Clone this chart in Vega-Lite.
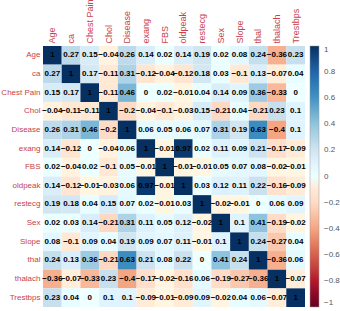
{
  "$schema": "https://vega.github.io/schema/vega-lite/v6.json",
  "width": 262,
  "height": 261,
  "autosize": {"type": "none"},
  "padding": {"left": 43, "top": 46, "right": 35, "bottom": 4},
  "background": "white",
  "datasets": {
    "m": [
      {"r":"Age","c":"Age","v":1},{"r":"Age","c":"ca","v":0.27},{"r":"Age","c":"Chest Pain","v":0.15},{"r":"Age","c":"Chol","v":-0.04},{"r":"Age","c":"Disease","v":0.26},{"r":"Age","c":"exang","v":0.14},{"r":"Age","c":"FBS","v":0.02},{"r":"Age","c":"oldpeak","v":0.14},{"r":"Age","c":"restecg","v":0.19},{"r":"Age","c":"Sex","v":0.02},{"r":"Age","c":"Slope","v":0.08},{"r":"Age","c":"thal","v":0.24},{"r":"Age","c":"thalach","v":-0.36},{"r":"Age","c":"Trestbps","v":0.23},
      {"r":"ca","c":"Age","v":0.27},{"r":"ca","c":"ca","v":1},{"r":"ca","c":"Chest Pain","v":0.17},{"r":"ca","c":"Chol","v":-0.11},{"r":"ca","c":"Disease","v":0.31},{"r":"ca","c":"exang","v":-0.12},{"r":"ca","c":"FBS","v":-0.04},{"r":"ca","c":"oldpeak","v":-0.12},{"r":"ca","c":"restecg","v":0.18},{"r":"ca","c":"Sex","v":0.03},{"r":"ca","c":"Slope","v":-0.1},{"r":"ca","c":"thal","v":0.13},{"r":"ca","c":"thalach","v":-0.07},{"r":"ca","c":"Trestbps","v":0.04},
      {"r":"Chest Pain","c":"Age","v":0.15},{"r":"Chest Pain","c":"ca","v":0.17},{"r":"Chest Pain","c":"Chest Pain","v":1},{"r":"Chest Pain","c":"Chol","v":-0.11},{"r":"Chest Pain","c":"Disease","v":0.46},{"r":"Chest Pain","c":"exang","v":0},{"r":"Chest Pain","c":"FBS","v":0.02},{"r":"Chest Pain","c":"oldpeak","v":-0.01},{"r":"Chest Pain","c":"restecg","v":0.04},{"r":"Chest Pain","c":"Sex","v":0.14},{"r":"Chest Pain","c":"Slope","v":0.09},{"r":"Chest Pain","c":"thal","v":0.36},{"r":"Chest Pain","c":"thalach","v":-0.33},{"r":"Chest Pain","c":"Trestbps","v":0},
      {"r":"Chol","c":"Age","v":-0.04},{"r":"Chol","c":"ca","v":-0.11},{"r":"Chol","c":"Chest Pain","v":-0.11},{"r":"Chol","c":"Chol","v":1},{"r":"Chol","c":"Disease","v":-0.2},{"r":"Chol","c":"exang","v":-0.04},{"r":"Chol","c":"FBS","v":-0.1},{"r":"Chol","c":"oldpeak","v":-0.03},{"r":"Chol","c":"restecg","v":0.15},{"r":"Chol","c":"Sex","v":-0.21},{"r":"Chol","c":"Slope","v":0.04},{"r":"Chol","c":"thal","v":-0.21},{"r":"Chol","c":"thalach","v":0.23},{"r":"Chol","c":"Trestbps","v":0.1},
      {"r":"Disease","c":"Age","v":0.26},{"r":"Disease","c":"ca","v":0.31},{"r":"Disease","c":"Chest Pain","v":0.46},{"r":"Disease","c":"Chol","v":-0.2},{"r":"Disease","c":"Disease","v":1},{"r":"Disease","c":"exang","v":0.06},{"r":"Disease","c":"FBS","v":0.05},{"r":"Disease","c":"oldpeak","v":0.06},{"r":"Disease","c":"restecg","v":0.07},{"r":"Disease","c":"Sex","v":0.31},{"r":"Disease","c":"Slope","v":0.19},{"r":"Disease","c":"thal","v":0.63},{"r":"Disease","c":"thalach","v":-0.4},{"r":"Disease","c":"Trestbps","v":0.1},
      {"r":"exang","c":"Age","v":0.14},{"r":"exang","c":"ca","v":-0.12},{"r":"exang","c":"Chest Pain","v":0},{"r":"exang","c":"Chol","v":-0.04},{"r":"exang","c":"Disease","v":0.06},{"r":"exang","c":"exang","v":1},{"r":"exang","c":"FBS","v":-0.01},{"r":"exang","c":"oldpeak","v":0.97},{"r":"exang","c":"restecg","v":0.02},{"r":"exang","c":"Sex","v":0.11},{"r":"exang","c":"Slope","v":0.09},{"r":"exang","c":"thal","v":0.21},{"r":"exang","c":"thalach","v":-0.17},{"r":"exang","c":"Trestbps","v":-0.09},
      {"r":"FBS","c":"Age","v":0.02},{"r":"FBS","c":"ca","v":-0.04},{"r":"FBS","c":"Chest Pain","v":0.02},{"r":"FBS","c":"Chol","v":-0.1},{"r":"FBS","c":"Disease","v":0.05},{"r":"FBS","c":"exang","v":-0.01},{"r":"FBS","c":"FBS","v":1},{"r":"FBS","c":"oldpeak","v":-0.01},{"r":"FBS","c":"restecg","v":-0.01},{"r":"FBS","c":"Sex","v":0.05},{"r":"FBS","c":"Slope","v":0.07},{"r":"FBS","c":"thal","v":0.08},{"r":"FBS","c":"thalach","v":-0.02},{"r":"FBS","c":"Trestbps","v":-0.01},
      {"r":"oldpeak","c":"Age","v":0.14},{"r":"oldpeak","c":"ca","v":-0.12},{"r":"oldpeak","c":"Chest Pain","v":-0.01},{"r":"oldpeak","c":"Chol","v":-0.03},{"r":"oldpeak","c":"Disease","v":0.06},{"r":"oldpeak","c":"exang","v":0.97},{"r":"oldpeak","c":"FBS","v":-0.01},{"r":"oldpeak","c":"oldpeak","v":1},{"r":"oldpeak","c":"restecg","v":0.03},{"r":"oldpeak","c":"Sex","v":0.12},{"r":"oldpeak","c":"Slope","v":0.11},{"r":"oldpeak","c":"thal","v":0.22},{"r":"oldpeak","c":"thalach","v":-0.16},{"r":"oldpeak","c":"Trestbps","v":-0.09},
      {"r":"restecg","c":"Age","v":0.19},{"r":"restecg","c":"ca","v":0.18},{"r":"restecg","c":"Chest Pain","v":0.04},{"r":"restecg","c":"Chol","v":0.15},{"r":"restecg","c":"Disease","v":0.07},{"r":"restecg","c":"exang","v":0.02},{"r":"restecg","c":"FBS","v":-0.01},{"r":"restecg","c":"oldpeak","v":0.03},{"r":"restecg","c":"restecg","v":1},{"r":"restecg","c":"Sex","v":-0.02},{"r":"restecg","c":"Slope","v":-0.01},{"r":"restecg","c":"thal","v":0},{"r":"restecg","c":"thalach","v":0.06},{"r":"restecg","c":"Trestbps","v":0.09},
      {"r":"Sex","c":"Age","v":0.02},{"r":"Sex","c":"ca","v":0.03},{"r":"Sex","c":"Chest Pain","v":0.14},{"r":"Sex","c":"Chol","v":-0.21},{"r":"Sex","c":"Disease","v":0.31},{"r":"Sex","c":"exang","v":0.11},{"r":"Sex","c":"FBS","v":0.05},{"r":"Sex","c":"oldpeak","v":0.12},{"r":"Sex","c":"restecg","v":-0.02},{"r":"Sex","c":"Sex","v":1},{"r":"Sex","c":"Slope","v":0.1},{"r":"Sex","c":"thal","v":0.41},{"r":"Sex","c":"thalach","v":-0.19},{"r":"Sex","c":"Trestbps","v":-0.02},
      {"r":"Slope","c":"Age","v":0.08},{"r":"Slope","c":"ca","v":-0.1},{"r":"Slope","c":"Chest Pain","v":0.09},{"r":"Slope","c":"Chol","v":0.04},{"r":"Slope","c":"Disease","v":0.19},{"r":"Slope","c":"exang","v":0.09},{"r":"Slope","c":"FBS","v":0.07},{"r":"Slope","c":"oldpeak","v":0.11},{"r":"Slope","c":"restecg","v":-0.01},{"r":"Slope","c":"Sex","v":0.1},{"r":"Slope","c":"Slope","v":1},{"r":"Slope","c":"thal","v":0.24},{"r":"Slope","c":"thalach","v":-0.27},{"r":"Slope","c":"Trestbps","v":0.04},
      {"r":"thal","c":"Age","v":0.24},{"r":"thal","c":"ca","v":0.13},{"r":"thal","c":"Chest Pain","v":0.36},{"r":"thal","c":"Chol","v":-0.21},{"r":"thal","c":"Disease","v":0.63},{"r":"thal","c":"exang","v":0.21},{"r":"thal","c":"FBS","v":0.08},{"r":"thal","c":"oldpeak","v":0.22},{"r":"thal","c":"restecg","v":0},{"r":"thal","c":"Sex","v":0.41},{"r":"thal","c":"Slope","v":0.24},{"r":"thal","c":"thal","v":1},{"r":"thal","c":"thalach","v":-0.36},{"r":"thal","c":"Trestbps","v":0.06},
      {"r":"thalach","c":"Age","v":-0.36},{"r":"thalach","c":"ca","v":-0.07},{"r":"thalach","c":"Chest Pain","v":-0.33},{"r":"thalach","c":"Chol","v":0.23},{"r":"thalach","c":"Disease","v":-0.4},{"r":"thalach","c":"exang","v":-0.17},{"r":"thalach","c":"FBS","v":-0.02},{"r":"thalach","c":"oldpeak","v":-0.16},{"r":"thalach","c":"restecg","v":0.06},{"r":"thalach","c":"Sex","v":-0.19},{"r":"thalach","c":"Slope","v":-0.27},{"r":"thalach","c":"thal","v":-0.36},{"r":"thalach","c":"thalach","v":1},{"r":"thalach","c":"Trestbps","v":-0.07},
      {"r":"Trestbps","c":"Age","v":0.23},{"r":"Trestbps","c":"ca","v":0.04},{"r":"Trestbps","c":"Chest Pain","v":0},{"r":"Trestbps","c":"Chol","v":0.1},{"r":"Trestbps","c":"Disease","v":0.1},{"r":"Trestbps","c":"exang","v":-0.09},{"r":"Trestbps","c":"FBS","v":-0.01},{"r":"Trestbps","c":"oldpeak","v":-0.09},{"r":"Trestbps","c":"restecg","v":0.09},{"r":"Trestbps","c":"Sex","v":-0.02},{"r":"Trestbps","c":"Slope","v":0.04},{"r":"Trestbps","c":"thal","v":0.06},{"r":"Trestbps","c":"thalach","v":-0.07},{"r":"Trestbps","c":"Trestbps","v":1}
    ]
  },
  "data": {"name": "m"},
  "config": {
    "view": {"stroke": null},
    "font": "Liberation Sans",
    "axis": {"grid": false, "domain": false, "ticks": false, "title": null, "labelFont": "Liberation Sans", "labelFontSize": 9, "labelColor": "#c8414c"}
  },
  "encoding": {
    "x": {"field": "c", "type": "nominal", "sort": ["Age","ca","Chest Pain","Chol","Disease","exang","FBS","oldpeak","restecg","Sex","Slope","thal","thalach","Trestbps"], "scale": {"paddingInner": 0, "paddingOuter": 0}, "axis": {"orient": "top", "labelAngle": -90, "labelPadding": 3}},
    "y": {"field": "r", "type": "nominal", "sort": ["Age","ca","Chest Pain","Chol","Disease","exang","FBS","oldpeak","restecg","Sex","Slope","thal","thalach","Trestbps"], "scale": {"paddingInner": 0, "paddingOuter": 0}, "axis": {"labelPadding": 3, "labelFontSize": 8}}
  },
  "layer": [
    {
      "mark": {"type": "rect"},
      "encoding": {
        "color": {
          "field": "v", "type": "quantitative",
          "scale": {"domain": [-1,-0.8,-0.6,-0.4,-0.2,0,0.2,0.4,0.6,0.8,1], "range": ["#67001F","#B2182B","#D6604D","#F4A582","#FDDBC7","#FFFFFF","#D1E5F0","#92C5DE","#4393C3","#2166AC","#053061"]},
          "legend": {"orient": "none", "legendX": 267, "legendY": 0, "direction": "vertical", "gradientLength": 261, "gradientThickness": 9, "title": null, "values": [-1,-0.8,-0.6,-0.4,-0.2,0,0.2,0.4,0.6,0.8,1], "format": "~g", "labelFontSize": 8, "labelColor": "#555555", "labelOffset": 5, "gradientStrokeColor": "#999999", "gradientStrokeWidth": 0.5, "labelOverlap": false}
        }
      }
    },
    {
      "mark": {"type": "text", "fontSize": 8, "fontWeight": "bold", "color": "black"},
      "encoding": {"text": {"field": "v", "type": "quantitative", "format": ".2~f"}}
    }
  ]
}
